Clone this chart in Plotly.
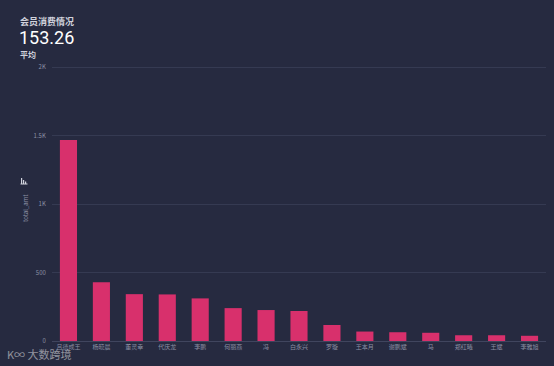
import plotly.graph_objects as go

names = ["吕德成王", "杨晓晨", "董灵幸", "代庆龙", "李鹏", "何丽燕", "冯", "白永兴",
         "罗璇", "王本月", "谢鹏斌", "马", "郑红曦", "王斌", "李雅旭"]
total_amt = [1467, 428, 342, 340, 311, 240, 226, 219, 117, 69, 64, 60, 42, 42, 38]
y_ticks = [0, 500, 1000, 1500, 2000]
y_tick_labels = ["0", "500", "1K", "1.5K", "2K"]
avg_value = "153.26"

W, H = 554, 366
L, R, T, B = 52, 8, 63, 25
y_top = (H - B - T) / 274 * 2000


def px(x):
    return (x - L) / (W - L - R)


def py(y):
    return (H - B - y) / (H - T - B)


bg = "#262a40"
fig = go.Figure(go.Bar(x=names, y=total_amt, marker=dict(color="#d8306c", line=dict(width=0)),
                       width=0.52))

fig.update_layout(
    width=W, height=H,
    paper_bgcolor=bg, plot_bgcolor=bg,
    margin=dict(l=L, r=R, t=T, b=B),
    font=dict(family="Noto Sans CJK SC, sans-serif", color="#8c90a4", size=6),
    showlegend=False,
)
fig.update_yaxes(range=[0, y_top], tickvals=y_ticks, ticktext=y_tick_labels,
                 gridcolor="#353a52", gridwidth=1, zeroline=False, showline=False,
                 tickfont=dict(size=6, color="#8c90a4"), ticks="outside", ticklen=4,
                 tickcolor=bg, title=None)
fig.update_xaxes(showgrid=False, showline=True, linecolor="#40455e", linewidth=1,
                 tickfont=dict(size=6, color="#8c90a4"), ticks="", tickangle=0)

anns = [
    dict(text="<b>会员消费情况</b>", x=px(18), y=py(13), font=dict(size=9, color="#d0d2dc")),
    dict(text=avg_value, x=px(17), y=py(25), font=dict(size=18, color="#ffffff", family="Roboto, sans-serif")),
    dict(text="<b>平均</b>", x=px(18), y=py(47), font=dict(size=8, color="#d0d2dc")),
    dict(text="total_amt", x=px(25), y=py(208), textangle=-90, yanchor="middle", xanchor="center",
         font=dict(size=6, color="#8c90a4")),
    dict(text="K∞ 大数跨境", x=px(5), y=py(344), font=dict(size=11, color="rgba(255,255,255,0.5)")),
]
for a in anns:
    a.setdefault("xanchor", "left")
    a.setdefault("yanchor", "top")
    fig.add_annotation(xref="paper", yref="paper", showarrow=False, **a)

# small bar icon above axis title
for h, dx in [(6, 0), (4, 2), (2.5, 4)]:
    fig.add_shape(type="rect", xref="paper", yref="paper",
                  x0=px(21 + dx), x1=px(22.2 + dx), y0=py(184), y1=py(184 - h),
                  fillcolor="#d0d2dc", line=dict(width=0))
fig.add_shape(type="line", xref="paper", yref="paper", x0=px(20.5), x1=px(27.5),
              y0=py(184), y1=py(184), line=dict(color="#d0d2dc", width=1))

fig.write_html("out.html", config={"displayModeBar": False},
               post_script="document.body.style.margin='0';document.body.style.overflow='hidden';")
